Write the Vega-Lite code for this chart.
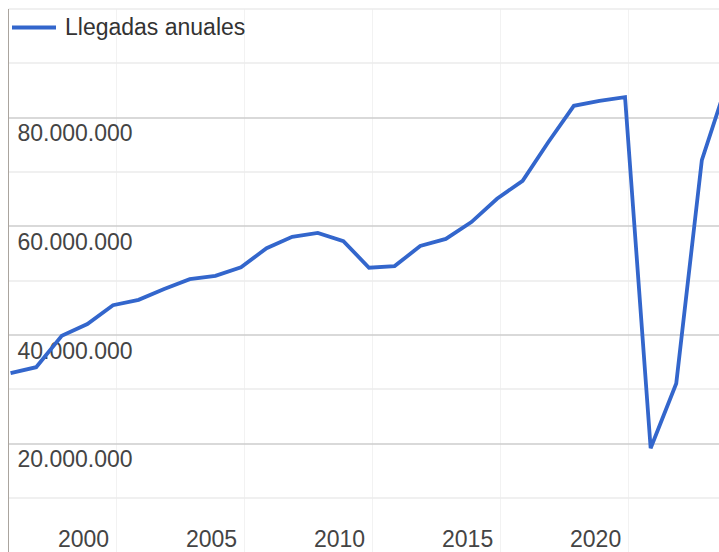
{
  "$schema": "https://vega.github.io/schema/vega-lite/v6.json",
  "autosize": {"type": "none"},
  "width": 711,
  "height": 543.5,
  "padding": {"left": 8, "top": 8.5, "right": 0, "bottom": 0},
  "background": "#ffffff",
  "config": {
    "view": {"stroke": null},
    "font": "Liberation Sans",
    "locale": {"number": {"decimal": ",", "thousands": ".", "grouping": [3], "currency": ["", " €"]}}
  },
  "data": {
    "values": [
      {"year": 1995, "llegadas": 32900000},
      {"year": 1996, "llegadas": 34000000},
      {"year": 1997, "llegadas": 39800000},
      {"year": 1998, "llegadas": 41950000},
      {"year": 1999, "llegadas": 45400000},
      {"year": 2000, "llegadas": 46400000},
      {"year": 2001, "llegadas": 48400000},
      {"year": 2002, "llegadas": 50200000},
      {"year": 2003, "llegadas": 50800000},
      {"year": 2004, "llegadas": 52400000},
      {"year": 2005, "llegadas": 55900000},
      {"year": 2006, "llegadas": 58000000},
      {"year": 2007, "llegadas": 58700000},
      {"year": 2008, "llegadas": 57200000},
      {"year": 2009, "llegadas": 52300000},
      {"year": 2010, "llegadas": 52600000},
      {"year": 2011, "llegadas": 56300000},
      {"year": 2012, "llegadas": 57600000},
      {"year": 2013, "llegadas": 60700000},
      {"year": 2014, "llegadas": 65000000},
      {"year": 2015, "llegadas": 68300000},
      {"year": 2016, "llegadas": 75400000},
      {"year": 2017, "llegadas": 82100000},
      {"year": 2018, "llegadas": 83000000},
      {"year": 2019, "llegadas": 83700000},
      {"year": 2020, "llegadas": 19100000},
      {"year": 2021, "llegadas": 31000000},
      {"year": 2022, "llegadas": 72100000},
      {"year": 2023, "llegadas": 86500000}
    ]
  },
  "mark": {"type": "line", "strokeWidth": 3.8, "clip": true, "strokeJoin": "miter"},
  "encoding": {
    "x": {
      "field": "year",
      "type": "quantitative",
      "scale": {"domain": [1994.9, 2022.67], "nice": false, "zero": false},
      "axis": {
        "title": null,
        "values": [1999.12, 2004.12, 2009.12, 2014.12, 2019.12],
        "labelExpr": "'' + (round(datum.value) + 1)",
        "labelOffset": -33,
        "labelPadding": -6,
        "labelBaseline": "alphabetic",
        "labelFontSize": 23,
        "labelColor": "#444444",
        "labelFont": "Liberation Sans",
        "labelFlush": false,
        "labelOverlap": false,
        "ticks": false,
        "tickSize": 0,
        "domain": false,
        "grid": true,
        "gridColor": "#f2f2f2",
        "gridWidth": 1
      }
    },
    "y": {
      "field": "llegadas",
      "type": "quantitative",
      "scale": {"domain": [0, 100000000], "nice": false},
      "axis": {
        "title": null,
        "values": [10000000, 20000000, 30000000, 40000000, 50000000, 60000000, 70000000, 80000000, 90000000, 100000000],
        "labelExpr": "(datum.value % 20000000 == 0 && datum.value < 100000000) ? format(datum.value, ',d') : ''",
        "labelAlign": "left",
        "labelPadding": -9,
        "labelBaseline": "alphabetic",
        "labelOffset": 23.5,
        "labelFontSize": 23,
        "labelColor": "#444444",
        "labelFont": "Liberation Sans",
        "labelOverlap": false,
        "labelFlush": false,
        "ticks": false,
        "tickSize": 0,
        "domain": true,
        "domainColor": "#aaa49e",
        "domainWidth": 1,
        "grid": true,
        "gridColor": {"condition": {"test": "datum.value % 20000000 == 0 && datum.value < 100000000", "value": "#cccccc"}, "value": "#ebebeb"},
        "gridWidth": 1.5
      }
    },
    "color": {
      "datum": "Llegadas anuales",
      "type": "nominal",
      "scale": {"range": ["#3366cc"]},
      "legend": {
        "title": null,
        "orient": "none",
        "legendX": 2,
        "legendY": -5,
        "padding": 0,
        "symbolType": "stroke",
        "symbolSize": 1936,
        "symbolStrokeWidth": 3.8,
        "labelFontSize": 23,
        "labelFont": "Liberation Sans",
        "labelColor": "#333333",
        "labelOffset": 7,
        "labelLimit": 0
      }
    }
  }
}
